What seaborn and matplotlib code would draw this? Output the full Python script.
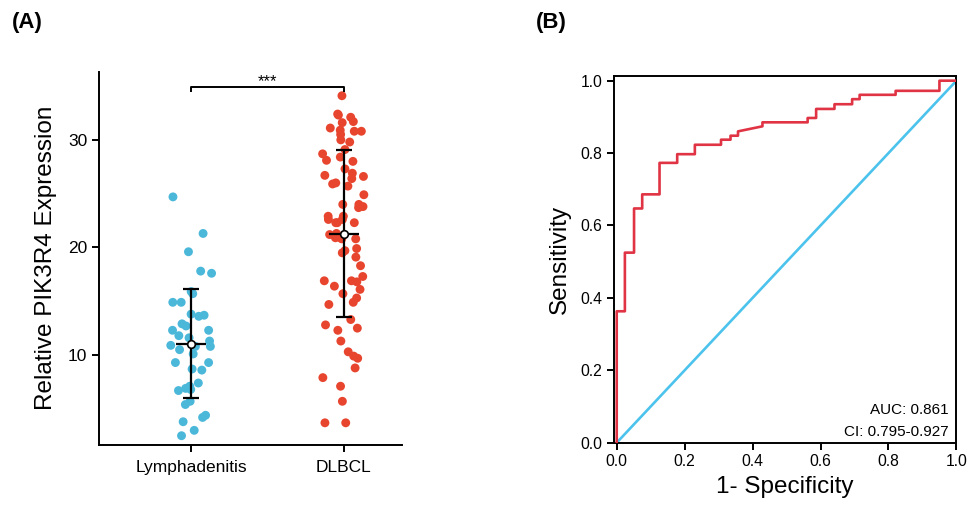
import numpy as np
import pandas as pd
import matplotlib
matplotlib.use("Agg")
import matplotlib.pyplot as plt
import seaborn as sns

# Relative PIK3R4 expression per sample
lymphadenitis = [24.7, 21.3, 19.6, 17.8, 17.6, 15.7, 15.9, 14.9, 14.9, 13.8,
                 13.6, 13.7, 12.7, 12.3, 12.9, 12.3, 11.8, 11.6, 11.3, 10.9,
                 10.8, 10.8, 10.5, 10.1, 9.3, 9.3, 8.7, 8.6, 7.4, 7.1,
                 6.7, 6.8, 6.9, 5.7, 5.4, 4.4, 4.2, 3.8, 3.0, 2.5]
dlbcl = [34.1, 32.4, 32.1, 32.3, 31.6, 31.7, 30.9, 30.8, 31.1, 30.8,
         30.5, 30.0, 29.8, 29.1, 28.4, 28.7, 28.1, 28.0, 27.3, 26.9,
         26.6, 26.4, 26.7, 26.0, 25.7, 25.9, 24.9, 23.8, 24.0, 24.0,
         23.7, 22.9, 22.3, 22.6, 22.3, 22.9, 22.6, 22.3, 21.3, 20.9,
         21.2, 20.9, 20.8, 20.8, 19.9, 19.7, 19.5, 19.1, 18.3, 16.9,
         16.8, 17.3, 16.9, 16.1, 16.4, 15.7, 15.3, 14.9, 14.7, 13.3,
         12.8, 12.3, 12.5, 11.3, 10.3, 9.9, 9.7, 8.8, 7.9, 7.1,
         5.7, 3.7, 3.7]
groups = ["Lymphadenitis", "DLBCL"]
group_colors = ["#4BB8DA", "#E8452F"]
significance = "***"

# ROC curve (1 - specificity, sensitivity)
roc_fpr = [0.0, 0.0, 0.024, 0.024, 0.051, 0.051, 0.075, 0.075, 0.126, 0.126,
           0.178, 0.178, 0.230, 0.230, 0.307, 0.307, 0.335, 0.335, 0.357, 0.357,
           0.429, 0.429, 0.562, 0.562, 0.587, 0.587, 0.641, 0.641, 0.693, 0.693,
           0.715, 0.715, 0.821, 0.821, 0.950, 0.950, 1.0]
roc_tpr = [0.0, 0.363, 0.363, 0.525, 0.525, 0.647, 0.647, 0.686, 0.686, 0.773,
           0.773, 0.797, 0.797, 0.823, 0.823, 0.837, 0.837, 0.848, 0.848, 0.860,
           0.874, 0.885, 0.885, 0.897, 0.897, 0.922, 0.922, 0.935, 0.935, 0.949,
           0.949, 0.961, 0.961, 0.972, 0.972, 1.0, 1.0]
ref_line = [0.0, 1.0]
auc_text = "AUC: 0.861"
ci_text = "CI: 0.795-0.927"

sns.set_theme(style="ticks")
plt.rcParams["font.family"] = ["Liberation Sans", "DejaVu Sans"]
plt.rcParams.update({
    "text.color": "black",
    "axes.labelcolor": "black",
    "axes.edgecolor": "black",
    "xtick.color": "black",
    "ytick.color": "black",
})

fig = plt.figure(figsize=(9.7, 5.11), dpi=100)
ax1 = fig.add_axes([0.102, 0.129, 0.312, 0.731])
ax2 = fig.add_axes([0.633, 0.1337, 0.353, 0.7176])

# ---- Panel A: scatter with mean +/- SD ----
df = pd.DataFrame({
    "group": [groups[0]] * len(lymphadenitis) + [groups[1]] * len(dlbcl),
    "value": lymphadenitis + dlbcl,
})
np.random.seed(7)
sns.stripplot(data=df, x="group", y="value", hue="group", order=groups,
              hue_order=groups, palette=group_colors, jitter=0.14, size=6.4,
              linewidth=0, alpha=1.0, legend=False, ax=ax1, zorder=2)

for i, vals in enumerate([lymphadenitis, dlbcl]):
    m = np.mean(vals)
    s = np.std(vals, ddof=1)
    ax1.errorbar(i, m, yerr=s, fmt="none", ecolor="black", elinewidth=1.6,
                 capsize=5.8, capthick=1.6, zorder=3)
    ax1.hlines(m, i - 0.1, i + 0.1, color="black", lw=1.6, zorder=3)
    ax1.plot(i, m, marker="o", ms=5.5, mfc="white", mec="black", mew=1.2,
             zorder=4)

# significance bracket
ax1.plot([0, 0, 1, 1], [34.43, 34.95, 34.95, 34.43], color="black", lw=1.4,
         solid_capstyle="butt")
ax1.text(0.5, 34.95, significance, ha="center", va="baseline", fontsize=12)

ax1.set_xlim(-0.603, 1.377)
ax1.set_ylim(1.63, 36.35)
ax1.set_yticks([10, 20, 30])
ax1.set_xlabel("")
ax1.set_ylabel("Relative PIK3R4 Expression", fontsize=17.5, labelpad=8)
ax1.tick_params(axis="both", labelsize=12.5, width=1.4, length=5)
ax1.tick_params(axis="x", pad=6)
sns.despine(ax=ax1)
for sp in ax1.spines.values():
    sp.set_linewidth(1.4)

# ---- Panel B: ROC curve ----
sns.lineplot(x=roc_fpr, y=roc_tpr, sort=False, estimator=None,
             color="#E03444", lw=1.9, ax=ax2, zorder=3)
sns.lineplot(x=ref_line, y=ref_line, sort=False, estimator=None,
             color="#4CC3EC", lw=1.9, ax=ax2, zorder=2)
ax2.set_xlim(-0.008, 1.0)
ax2.set_ylim(0.0, 1.013)
ticks = np.arange(0, 1.01, 0.2)
ax2.set_xticks(ticks)
ax2.set_yticks(ticks)
ax2.set_xticklabels([f"{v:.1f}" for v in ticks])
ax2.set_yticklabels([f"{v:.1f}" for v in ticks])
ax2.tick_params(axis="both", labelsize=11.3, width=1.4, length=5)
ax2.set_xlabel("1- Specificity", fontsize=17.5, labelpad=5)
ax2.set_ylabel("Sensitivity", fontsize=17.5, labelpad=7)
for sp in ax2.spines.values():
    sp.set_linewidth(1.4)
ax2.text(0.978, 0.09, auc_text, ha="right", va="center", fontsize=11)
ax2.text(0.978, 0.030, ci_text, ha="right", va="center", fontsize=11)

fig.text(0.012, 0.955, "(A)", fontsize=16, fontweight="bold", va="center")
fig.text(0.552, 0.955, "(B)", fontsize=16, fontweight="bold", va="center")

fig.savefig("out.png", dpi=100)
